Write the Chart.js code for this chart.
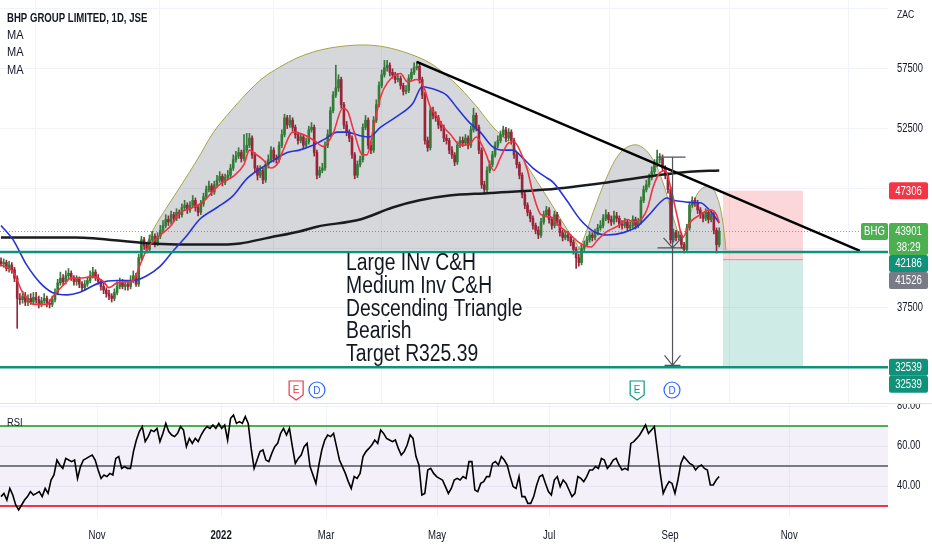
<!DOCTYPE html>
<html><head><meta charset="utf-8">
<script src="https://cdn.jsdelivr.net/npm/chart.js@4.4.1/dist/chart.umd.min.js"></script>
<style>
html,body{margin:0;padding:0;background:#fff;}
#wrap{position:relative;width:932px;height:550px;overflow:hidden;background:#fff;}
#main{position:absolute;left:0;top:0;width:932px;height:404px;}
#rsi{position:absolute;left:0;top:404px;width:932px;height:146px;}
#sep{position:absolute;left:0;top:403px;width:932px;height:1px;background:#e0e3eb;}
</style></head><body>
<div id="wrap"><canvas id="main" width="932" height="404"></canvas><canvas id="rsi" width="932" height="146"></canvas><div id="sep"></div></div>
<script>
const FONT = '"Liberation Sans",Arial,sans-serif';
Chart.defaults.font.family = FONT;
Chart.defaults.color = '#131722';

// ---- price data (Rand; plotted in ZAC = Rand*100) ----
const firstOpen = 414;
const closes = [
412,413,408,411,407,400,383,382,385,380,
383,380,384,382,378,381,383,379,378,382,
388,396,400,397,402,404,400,397,399,395,
392,395,398,402,405,400,397,393,390,387,
385,383,388,393,396,393,395,393,398,402,
395,417,432,427,424,432,435,429,435,440,
444,449,447,453,450,455,453,459,461,457,
461,465,459,455,462,468,474,477,472,478,
482,485,480,484,486,492,499,502,505,500,
507,511,517,503,492,486,490,482,495,499,
507,500,499,511,520,534,528,532,526,520,
515,518,511,514,524,526,505,486,490,492,
511,520,540,553,559,566,545,528,522,517,
503,486,495,499,526,532,511,507,532,545,
561,570,576,578,572,570,566,567,561,556,
557,567,572,576,577,566,553,515,509,540,
536,534,528,526,517,515,507,503,497,511,
515,513,517,511,524,536,526,507,478,474,
490,495,503,511,515,520,524,517,522,515,
503,495,486,470,461,455,450,444,440,436,
447,453,457,449,444,453,447,438,434,436,
434,430,424,417,413,425,428,432,436,434,
438,442,444,450,453,449,447,452,450,445,
444,447,442,444,449,444,447,465,474,478,
484,489,495,499,500,492,486,474,432,438,
434,436,428,424,442,461,465,463,457,453,
450,455,449,453,440,428,439.01];
const highs = [
417,416,415,414,413,409,402,387,389,388,
386,387,388,388,385,384,387,385,382,385,
391,399,405,403,406,408,406,402,402,401,
397,398,401,406,409,407,403,399,396,392,
390,387,391,397,400,399,398,397,402,406,
404,420,435,434,430,436,439,437,438,444,
448,453,452,456,455,458,457,462,465,463,
464,469,467,461,465,471,477,481,479,481,
486,489,487,487,490,495,503,506,509,507,
520,521,521,519,505,494,494,492,498,503,
510,509,503,514,524,537,536,536,534,528,
522,521,520,517,527,530,528,507,493,496,
514,524,543,556,578,570,568,547,531,524,
519,505,498,502,529,536,534,514,535,549,
564,574,582,582,580,575,572,571,569,563,
561,570,575,580,581,579,568,555,518,543,
543,539,536,531,528,520,517,510,505,514,
518,518,520,519,527,542,538,528,509,481,
493,498,506,514,519,523,527,526,525,524,
517,505,497,488,472,463,457,452,446,443,
450,456,460,459,451,456,455,449,440,439,
439,436,432,426,420,428,431,435,439,438,
441,445,448,453,457,455,452,456,455,452,
448,450,449,447,452,451,450,468,477,482,
487,493,499,507,504,503,494,488,476,441,
440,439,438,430,445,464,468,467,465,459,
455,458,457,456,455,442,442];
const lows = [
410,409,406,405,404,397,358,378,379,377,
377,378,378,379,375,376,379,376,375,376,
380,386,394,394,395,399,398,394,394,392,
389,390,393,396,400,398,395,390,387,384,
382,380,381,386,391,391,390,390,391,396,
393,393,415,424,421,422,430,426,427,433,
438,442,444,445,447,448,450,451,457,454,
455,459,456,452,453,460,466,472,469,470,
476,480,477,478,482,484,490,497,500,497,
498,505,509,500,489,482,484,479,480,492,
497,497,496,497,509,518,525,526,523,517,
512,513,508,509,512,522,502,483,484,488,
490,509,518,538,551,556,542,525,519,514,
500,483,484,493,497,524,508,504,505,530,
543,559,568,573,569,567,563,564,558,553,
554,555,565,570,574,563,550,512,506,507,
533,531,525,523,514,512,504,500,494,495,
509,510,511,508,509,522,523,504,475,471,
472,488,493,501,509,513,518,514,515,512,
500,492,483,467,458,452,447,441,437,433,
434,445,451,446,441,442,444,435,431,432,
431,427,420,408,410,411,423,426,430,431,
432,436,440,442,448,446,444,445,447,442,
441,442,439,440,442,441,442,445,463,472,
476,482,487,493,496,489,483,471,429,430,
431,432,425,421,422,440,459,460,454,450,
447,448,446,447,437,421,426];

// moving averages: [bar index, Rand]
const redMA = [[0,411],[4.5,405],[8,388],[12,378],[17,378],[19,384],[23,394],[26,400],[29,400],[34,401],[38,397],[40,392],[43,396],[47,397],[49,398],[51.5,411],[54,424],[58,434],[63,444],[66,454],[71,459],[75,464],[79,474],[82,480],[86,485],[90,495],[92,507],[93.5,505],[97,499],[100,492],[102.5,496],[104.5,507],[108,522],[112,520],[116,515],[119.5,510],[123,521],[126.5,542],[128.5,539],[130.5,524],[134,503],[135.5,503],[138,526],[140.5,551],[143,563],[148,571],[150.5,564],[154,566],[156.5,560],[159,543],[161.5,535],[164,526],[166.5,520],[169,513],[171.5,511],[174,513],[176,518],[179,507],[182.5,490],[185,501],[188,513],[190,514],[192.5,505],[195,490],[197,471],[200,453],[203.5,451],[207,443],[211,436],[214.5,429],[218.5,426],[221,432],[224.5,439],[228,443],[232,449],[234,447],[237,449],[239.5,459],[241.5,476],[244,488],[246,490],[248,476],[250.5,451],[252.5,434],[255,446],[259,453],[262.5,457],[265,453],[266,446]];
const blueMA = [[0,444],[4.5,432],[9.5,411],[14.5,396],[19,388],[24.5,386],[29,388],[36.5,396],[43,398],[49,398],[54,402],[59,410],[63.5,422],[69,436],[73.5,449],[80,459],[86,469],[91,483],[98.5,495],[106,505],[110.5,507],[115.5,511],[120.5,517],[124.5,522],[128,522],[133,519],[136.5,518],[140.5,526],[146.5,535],[152.5,546],[156,560],[161.5,557],[165,553],[169,542],[173.5,530],[177.5,522],[182,510],[186,507],[189.5,507],[193,501],[197,492],[202,484],[204.5,480],[209.5,465],[214.5,449],[219.5,439],[224.5,436],[230.5,438],[235.5,443],[240.5,454],[244,463],[246.5,467],[249,465],[252.5,464],[256,463],[259,463],[261.5,459],[263.5,454],[266,446]];
const blackMA = [[0,434],[27.5,434],[55,429],[77.5,428],[88.5,429],[99.5,434],[110.5,439],[117,443],[133,449],[145,459],[155,465],[166,469],[180,471],[202,474],[224.5,480],[243,486],[255,489],[266,490]];

// chart drawings: [bar index, Rand]
const bigArc = [[53,423.5],[56.3,440.2],[61.5,459.4],[66.3,476.2],[72.6,498.7],[78.5,521.3],[84.8,538.9],[91.1,554.7],[97,567.3],[103.3,576.5],[109.6,584],[115.6,589],[121.9,592.4],[134.1,594.9],[142.2,593.2],[151.5,587.3],[158.9,579.8],[164.4,570.6],[170,558.9],[176.3,543],[182.2,526.3],[188.5,512.9],[192.2,502.9],[197,486.2],[202.2,467.8],[205.9,454.4],[209.6,441],[212.6,431],[214.4,423.5]];
const mediumArc = [[213.7,423.5],[215.6,431.8],[220,459.4],[224.4,484.5],[229.3,504.6],[234.1,511.3],[237.8,508.8],[241.5,498.7],[245.2,479.5],[247.8,459.4],[250.4,440.2],[252.6,423.5]];
const smallArc = [[253.7,423.5],[254.4,444.4],[256.3,461.1],[258.1,471.1],[260.7,476.2],[263.3,475.3],[265.2,467.8],[266.7,455.3],[267.8,438.5],[268.5,423.5]];
const arcBase = 423.5;
const trendLine = [[154,580.7],[318.1,422.7]];
const horizontalLevels = [421.86, 325.39];
const lastPrice = 439.01, stopLevel = 473.06, entryLevel = 415.26, targetLevel = 325.39;
const countdownText = '38:29';
const positionSpan = [267.4, 297];
const measureIdx = 248.7, measureTop = 501.2, measureMid = 425.2, measureBottom = 327.0;
const earningsIdx = [109.3, 235.6];
const dividendIdx = [117, 248.5];
const noteLines = ['Large INv C&H','Medium Inv C&H','Descending Triangle','Bearish','Target R325.39'];
const noteAnchor = [127.8, 406.8];
const legendTitle = 'BHP GROUP LIMITED, 1D, JSE';
const legendRows = ['MA', 'MA', 'MA'];
const currencyLabel = 'ZAC';
const symbolLabel = 'BHG';

// RSI at a uniform sampling of rsiStep bars
const rsiStep = 1.09;
const rsiValues = [
34.7,36.3,33,38.8,35.5,30.5,28,30.5,33,34.7,
37.2,35.5,36.3,37.2,34.7,38.8,36.3,43,45.5,53,
50.5,48.8,53.8,53,52.2,53,43.8,49.7,53,53.8,
54.7,55.5,53,48,43.8,45.5,44.7,46.3,45.5,53.8,
54.7,48.8,49.7,48.8,48.8,57.2,63,67.2,69.7,62.2,
64.7,68,67.2,68.8,62.2,66.3,71.3,67.2,65.5,64.7,
66.3,69.7,68,59.7,63.8,61.3,63.8,62.2,65.5,68,
69.7,68.8,70.5,68.8,71.3,68.8,70.5,63,73.8,75.5,
71.3,72.2,71.3,74.7,71.3,58.8,48.8,53,57.2,58,
53,52.2,56.3,59.7,61.3,66.3,68.8,65.5,68.8,59.7,
51.3,53.8,55.5,59.7,61.3,49.7,45.5,41.3,50.5,58,
63,65.5,64.7,66.3,59.7,53,49.7,46.3,42.2,38.8,
44.7,43.8,46.3,54.7,57.2,58.8,60.5,63,61.3,68,
66.3,63.8,63,62.2,63,58.8,55.5,57.2,60.5,65.5,
63.8,54.7,50.5,35.5,36.3,48,48.8,46.3,44.7,43.8,
43,39.7,36.3,38.8,43,43.8,43,44.7,43.8,52.2,
52.2,38,37.2,41.3,42.2,44.7,44.7,51.3,52.2,50.5,
54.7,53,50.5,44.7,39.7,38.8,44.7,34.7,34.7,31.3,
31.3,34.7,40.5,44.7,45.5,41.3,37.2,35.5,43,44.7,
39.7,43,41.3,38,34.7,36.3,44.7,43.8,42.2,44.7,
48,48,49.7,48.8,53.8,53,48.8,50.5,53,53.8,
50.5,48,48.8,48,61.3,62.2,63.8,65.5,68,70.5,
66.3,68,69.7,58,46.3,36.3,39.7,42.2,41.3,36.3,
43,51.3,54.7,53,51.3,50.5,48,49.7,50.5,48.8,
48,40.5,40.5,43,44.7];
const rsiLevels = [70, 50, 30];
const rsiTicks = [80, 60, 40];

// axes
const xTickIdx = [35.6, 81.5, 120.4, 161.5, 203, 247.8, 291.9];
const xTickLabels = ['Nov','2022','Mar','May','Jul','Sep','Nov'];
const boldTickLabels = ['2022'];
const priceTicks = [325, 375, 425, 475, 525, 575, 625];
const shownPriceTicks = [575, 525, 375];

const Z = v => Math.round(v * 100);
const X_MIN = -0.37, X_MAX = 328.5;
const UP = '#347a38', DOWN = '#98263a', TEAL = '#0f917a';
const GRID = '#f0f3fa';

const opens = closes.map((c, i) => i === 0 ? firstOpen : closes[i - 1]);
const bodyData = closes.map((c, i) => ({x: i, y: [Z(Math.min(opens[i], c)), Z(Math.max(opens[i], c))]}));
const bodyColors = closes.map((c, i) => c >= opens[i] ? UP : DOWN);
const wickData = closes.map((c, i) => ({x: i, y: [Z(lows[i]), Z(highs[i])]}));
const pts = arr => arr.map(([i, v]) => ({x: i, y: Z(v)}));

function zeroPad(s) { s.paddingTop = 0; s.paddingBottom = 0; s.paddingLeft = 0; s.paddingRight = 0; }

// condensed text, to match the narrow lettering of the screenshot
function ctext(ctx, t, x, y, font, color, squeeze, align, baseline) {
  ctx.save();
  ctx.font = font; ctx.fillStyle = color;
  ctx.textAlign = align || 'left'; ctx.textBaseline = baseline || 'alphabetic';
  ctx.translate(x, y); ctx.scale(squeeze, 1);
  ctx.fillText(t, 0, 0);
  ctx.restore();
}

function drawBox(ctx, x, y, w, h, color, lines) {
  ctx.fillStyle = color;
  ctx.beginPath();
  if (ctx.roundRect) ctx.roundRect(x, y, w, h, 2); else ctx.rect(x, y, w, h);
  ctx.fill();
  const lh = h / lines.length;
  lines.forEach((t, k) => ctext(ctx, t, x + w / 2, y + lh * k + lh / 2 + 0.5, '12px ' + FONT, '#ffffff', 0.8, 'center', 'middle'));
}

const mainOverlay = {
  id: 'mainOverlay',
  beforeDatasetsDraw(chart) {
    const {ctx, chartArea: a, scales: {x, y}} = chart;
    ctx.save();
    const x0 = x.getPixelForValue(positionSpan[0]), x1 = x.getPixelForValue(positionSpan[1]);
    const yS = y.getPixelForValue(Z(stopLevel)), yE = y.getPixelForValue(Z(entryLevel)), yT = y.getPixelForValue(Z(targetLevel));
    ctx.fillStyle = 'rgba(242,54,69,0.2)'; ctx.fillRect(x0, yS, x1 - x0, yE - yS);
    ctx.fillStyle = 'rgba(8,153,129,0.2)'; ctx.fillRect(x0, yE + 1, x1 - x0, yT - yE - 1);
    ctx.strokeStyle = '#9598a1'; ctx.lineWidth = 1;
    ctx.beginPath(); ctx.moveTo(x0, yE); ctx.lineTo(x1, yE); ctx.stroke();
    const yL = Math.round(y.getPixelForValue(Z(lastPrice))) + 0.5;
    ctx.setLineDash([1, 2]); ctx.strokeStyle = '#9598a1';
    ctx.beginPath(); ctx.moveTo(a.left, yL); ctx.lineTo(a.right, yL); ctx.stroke();
    ctx.restore();
  },
  afterDatasetsDraw(chart) {
    const {ctx, chartArea: a, scales: {x, y}} = chart;
    ctx.save();
    ctx.strokeStyle = TEAL; ctx.lineWidth = 2.5;
    horizontalLevels.forEach(v => {
      const py = y.getPixelForValue(Z(v));
      ctx.beginPath(); ctx.moveTo(a.left, py); ctx.lineTo(a.right, py); ctx.stroke();
    });
    const mx = x.getPixelForValue(measureIdx);
    const yTop = y.getPixelForValue(Z(measureTop)), yMid = y.getPixelForValue(Z(measureMid)), yBot = y.getPixelForValue(Z(measureBottom));
    ctx.strokeStyle = '#50535e'; ctx.lineWidth = 1.2;
    ctx.beginPath();
    ctx.moveTo(mx, yTop); ctx.lineTo(mx, yBot);
    ctx.moveTo(mx - 16, yTop); ctx.lineTo(mx + 13, yTop);
    ctx.moveTo(mx - 15, yMid); ctx.lineTo(mx + 12, yMid);
    ctx.moveTo(mx - 9, yMid - 10); ctx.lineTo(mx, yMid); ctx.lineTo(mx + 9, yMid - 10);
    ctx.moveTo(mx - 8, yBot - 10); ctx.lineTo(mx, yBot); ctx.lineTo(mx + 8, yBot - 10);
    ctx.moveTo(mx - 8, yBot); ctx.lineTo(mx + 8, yBot);
    ctx.stroke();
    const nx = x.getPixelForValue(noteAnchor[0]), ny = y.getPixelForValue(Z(noteAnchor[1]));
    noteLines.forEach((t, k) => ctext(ctx, t, nx, ny + k * 22.8, '23px ' + FONT, '#131722', 0.84));
    const top = a.bottom - 23;
    earningsIdx.forEach((idx, k) => {
      const cx = x.getPixelForValue(idx), col = k === 0 ? '#f23645' : '#089981';
      ctx.beginPath();
      ctx.moveTo(cx - 7, top); ctx.lineTo(cx + 7, top); ctx.lineTo(cx + 7, top + 14); ctx.lineTo(cx, top + 19); ctx.lineTo(cx - 7, top + 14); ctx.closePath();
      ctx.fillStyle = '#fff'; ctx.fill(); ctx.strokeStyle = col; ctx.lineWidth = 1.2; ctx.stroke();
      ctext(ctx, 'E', cx, top + 8.5, '11px ' + FONT, col, 0.9, 'center', 'middle');
    });
    dividendIdx.forEach(idx => {
      const cx = x.getPixelForValue(idx);
      ctx.beginPath(); ctx.arc(cx, top + 9, 8, 0, Math.PI * 2);
      ctx.fillStyle = '#fff'; ctx.fill(); ctx.strokeStyle = '#2962ff'; ctx.lineWidth = 1.2; ctx.stroke();
      ctext(ctx, 'D', cx, top + 9.5, '11px ' + FONT, '#2962ff', 0.9, 'center', 'middle');
    });
    ctx.restore();
  },
  afterDraw(chart) {
    const {ctx, chartArea: a, scales: {y}} = chart;
    ctx.save();
    ctext(ctx, legendTitle, 7, 21.5, 'bold 12px ' + FONT, '#131722', 0.8);
    legendRows.forEach((t, k) => ctext(ctx, t, 7, 38.5 + k * 17.5, '12px ' + FONT, '#131722', 0.92));
    ctext(ctx, currencyLabel, 897, 18, '11px ' + FONT, '#131722', 0.78);
    y.ticks.forEach(t => {
      if (shownPriceTicks.includes(Math.round(t.value / 100)))
        ctext(ctx, String(t.value), a.right + 9, y.getPixelForValue(t.value), '12px ' + FONT, '#131722', 0.78, 'left', 'middle');
    });
    const bx = a.right + 1, bw = 39, bh = 17;
    const boxes = [
      {v: stopLevel, color: '#f23645', lines: [String(Z(stopLevel))]},
      {v: lastPrice, color: '#4caf50', lines: [String(Math.round(Z(lastPrice))), countdownText]},
      {v: horizontalLevels[0], color: TEAL, lines: [String(Z(horizontalLevels[0]))]},
      {v: entryLevel, color: '#787b86', lines: [String(Z(entryLevel))]},
      {v: targetLevel, color: TEAL, lines: [String(Z(targetLevel))]},
      {v: horizontalLevels[1], color: TEAL, lines: [String(Z(horizontalLevels[1]))]}
    ];
    let prevBottom = -1e9;
    boxes.forEach(b => {
      const h = bh * b.lines.length - (b.lines.length > 1 ? 2 : 0);
      let t = y.getPixelForValue(Z(b.v)) - bh / 2;
      if (t < prevBottom) t = prevBottom;
      drawBox(ctx, bx, t, bw, h, b.color, b.lines);
      if (b.v === lastPrice) drawBox(ctx, a.right - 27, t, 27, bh, '#4caf50', [symbolLabel]);
      prevBottom = t + h;
    });
    ctx.restore();
  }
};

new Chart(document.getElementById('main'), {
  type: 'bar',
  data: {
    datasets: [
      {type: 'line', data: pts(bigArc), fill: {value: Z(arcBase)}, backgroundColor: 'rgba(120,123,134,0.3)', borderColor: '#a5a545', borderWidth: 1, pointRadius: 0, tension: 0.4, cubicInterpolationMode: 'monotone', order: 10},
      {type: 'line', data: pts(mediumArc), fill: {value: Z(arcBase)}, backgroundColor: 'rgba(120,123,134,0.3)', borderColor: '#a5a545', borderWidth: 1, pointRadius: 0, tension: 0.4, order: 10},
      {type: 'line', data: pts(smallArc), fill: {value: Z(arcBase)}, backgroundColor: 'rgba(120,123,134,0.3)', borderColor: '#a5a545', borderWidth: 1, pointRadius: 0, tension: 0.4, order: 10},
      {type: 'bar', data: wickData, backgroundColor: bodyColors, barThickness: 1, grouped: false, order: 6},
      {type: 'bar', data: bodyData, backgroundColor: bodyColors, barThickness: 2, minBarLength: 1, grouped: false, order: 5},
      {type: 'line', data: pts(blackMA), borderColor: '#1b1c1f', borderWidth: 2.5, pointRadius: 0, tension: 0.4, cubicInterpolationMode: 'monotone', order: 4},
      {type: 'line', data: pts(blueMA), borderColor: '#2633d6', borderWidth: 1.6, pointRadius: 0, tension: 0.4, cubicInterpolationMode: 'monotone', order: 3},
      {type: 'line', data: pts(redMA), borderColor: '#ef3340', borderWidth: 1.6, pointRadius: 0, tension: 0.4, cubicInterpolationMode: 'monotone', order: 2},
      {type: 'line', data: pts(trendLine), borderColor: '#000', borderWidth: 2.5, pointRadius: 0, tension: 0, order: 1}
    ]
  },
  options: {
    responsive: false, animation: false, events: [],
    layout: {padding: 0},
    plugins: {legend: {display: false}, tooltip: {enabled: false}},
    scales: {
      x: {type: 'linear', min: X_MIN, max: X_MAX, offset: false,
        grid: {color: GRID, drawTicks: false}, border: {display: false},
        ticks: {display: false},
        afterBuildTicks: s => { s.ticks = xTickIdx.map(v => ({value: v})); },
        afterFit: s => { s.height = 0; zeroPad(s); }},
      y: {type: 'linear', position: 'right', min: 29474, max: 63249,
        grid: {color: GRID, drawTicks: false}, border: {display: false},
        afterBuildTicks: s => { s.ticks = priceTicks.map(v => ({value: Z(v)})); },
        ticks: {display: false},
        afterFit: s => { s.width = 44; zeroPad(s); }}
    }
  },
  plugins: [mainOverlay]
});

const rsiOverlay = {
  id: 'rsiOverlay',
  beforeDatasetsDraw(chart) {
    const {ctx, chartArea: a, scales: {y}} = chart;
    ctx.save();
    const yHi = y.getPixelForValue(rsiLevels[0]), yLo = y.getPixelForValue(rsiLevels[2]);
    ctx.fillStyle = 'rgba(126,87,194,0.09)';
    ctx.fillRect(a.left, yHi, a.right - a.left, yLo - yHi);
    const cols = ['#4caf50', '#787b86', '#f23645'];
    rsiLevels.forEach((lv, k) => {
      const py = y.getPixelForValue(lv);
      ctx.strokeStyle = cols[k]; ctx.lineWidth = 2;
      ctx.beginPath(); ctx.moveTo(a.left, py); ctx.lineTo(a.right, py); ctx.stroke();
    });
    ctx.restore();
  },
  afterDraw(chart) {
    const {ctx, chartArea: a, scales: {x, y}} = chart;
    ctext(ctx, 'RSI', 7, 22, '11px ' + FONT, '#131722', 0.85);
    y.ticks.forEach(t => ctext(ctx, t.value.toFixed(2), a.right + 9, y.getPixelForValue(t.value), '12px ' + FONT, '#131722', 0.78, 'left', 'middle'));
    x.ticks.forEach((t, i) => {
      const lbl = xTickLabels[i];
      const bold = boldTickLabels.includes(lbl) ? 'bold ' : '';
      ctext(ctx, lbl, x.getPixelForValue(t.value), a.bottom + 19, bold + '12px ' + FONT, '#131722', 0.8, 'center', 'middle');
    });
  }
};

new Chart(document.getElementById('rsi'), {
  type: 'line',
  data: {
    datasets: [{data: rsiValues.map((v, k) => ({x: k * rsiStep, y: v})), borderColor: '#000', borderWidth: 1.6, pointRadius: 0, tension: 0}]
  },
  options: {
    responsive: false, animation: false, events: [],
    layout: {padding: 0},
    plugins: {legend: {display: false}, tooltip: {enabled: false}},
    scales: {
      x: {type: 'linear', min: X_MIN, max: X_MAX, offset: false,
        grid: {color: GRID, drawTicks: false}, border: {display: false},
        afterBuildTicks: s => { s.ticks = xTickIdx.map(v => ({value: v})); },
        ticks: {display: false},
        afterFit: s => { s.height = 33; zeroPad(s); }},
      y: {type: 'linear', position: 'right', min: 24.5, max: 81,
        grid: {color: GRID, drawTicks: false}, border: {display: false},
        afterBuildTicks: s => { s.ticks = rsiTicks.map(v => ({value: v})); },
        ticks: {display: false},
        afterFit: s => { s.width = 44; zeroPad(s); }}
    }
  },
  plugins: [rsiOverlay]
});
</script></body></html>
